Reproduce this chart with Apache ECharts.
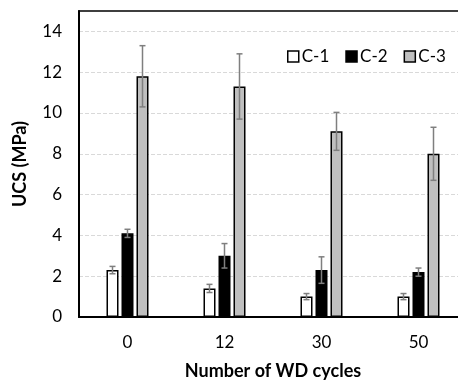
<!DOCTYPE html>
<html>
<head>
<meta charset="utf-8">
<script src="https://cdn.jsdelivr.net/npm/echarts@6/dist/echarts.min.js"></script>
<style>
  html, body { margin: 0; padding: 0; background: #fff; }
  #chart { width: 458px; height: 381px; }
</style>
</head>
<body>
<div id="chart"></div>
<script>
const cycles = ['0', '12', '30', '50'];
const seriesNames = ['C-1', 'C-2', 'C-3'];
const c1 = [2.3, 1.4, 1.0, 1.0];
const c2 = [4.1, 3.0, 2.3, 2.2];
const c3 = [11.8, 11.3, 9.1, 8.0];
const c1Err = [0.18, 0.2, 0.15, 0.15];
const c2Err = [0.2, 0.6, 0.65, 0.2];
const c3Err = [1.5, 1.6, 0.93, 1.3];

const chart = echarts.init(document.getElementById('chart'));
const font = 'Lato, "Open Sans", sans-serif';

// 误差线
const errorSeries = (values, errs, offset) => ({
    type: 'custom',
    z: 5,
    silent: true,
    data: values.map((v, i) => [i, v, errs[i]]),
    renderItem: (params, api) => {
        const i = api.value(0);
        const v = api.value(1);
        const e = api.value(2);
        const top = api.coord([i, v + e]);
        const bot = api.coord([i, v - e]);
        const x = top[0] + offset;
        const style = { stroke: '#7f7f7f', lineWidth: 1.5 };
        return {
            type: 'group',
            children: [
                { type: 'line', shape: { x1: x, y1: top[1], x2: x, y2: bot[1] }, style },
                { type: 'line', shape: { x1: x - 3, y1: top[1], x2: x + 3, y2: top[1] }, style },
                { type: 'line', shape: { x1: x - 3, y1: bot[1], x2: x + 3, y2: bot[1] }, style },
            ],
        };
    },
});

const bar = (name, values, color) => ({
    name,
    type: 'bar',
    data: values,
    barWidth: 12,
    barGap: '25%',
    itemStyle: { color, borderColor: '#000', borderWidth: 1.5 },
});

chart.setOption({
    animation: false,
    grid: {
        left: 79, top: 11, width: 388, bottom: 64,
        outerBoundsMode: 'none',
        containLabel: false,
        show: true, borderColor: '#000', borderWidth: 1.5,
    },
    legend: {
        left: 282, top: 43,
        itemWidth: 11, itemHeight: 11, itemGap: 16,
        icon: 'rect',
        data: seriesNames,
        textStyle: { fontFamily: font, fontSize: 17, color: '#000', padding: [0, 0, 0, -2] },
        itemStyle: { borderColor: '#000', borderWidth: 1.5 },
    },
    xAxis: {
        type: 'category',
        data: cycles,
        name: 'Number of WD cycles',
        nameLocation: 'middle',
        nameGap: 45,
        nameTextStyle: { fontFamily: font, fontSize: 18, fontWeight: 'bold', color: '#000' },
        axisLine: { lineStyle: { color: '#000', width: 2 } },
        axisTick: { alignWithLabel: true, length: 5, lineStyle: { color: '#000', width: 1.5 } },
        axisLabel: { fontFamily: font, fontSize: 17, color: '#000', margin: 17 },
    },
    yAxis: {
        type: 'value',
        min: 0, max: 15, interval: 2,
        name: 'UCS (MPa)',
        nameLocation: 'middle',
        nameGap: 50,
        nameTextStyle: { fontFamily: font, fontSize: 18, fontWeight: 'bold', color: '#000' },
        axisLine: { show: true, lineStyle: { color: '#000', width: 2 } },
        axisTick: { show: false },
        axisLabel: {
            fontFamily: font, fontSize: 17, color: '#000', margin: 17,
            formatter: v => (v > 14 ? '' : String(v)),
        },
        splitLine: { showMaxLine: false, lineStyle: { color: '#d9d9d9', type: 'dashed', width: 1 } },
    },
    series: [
        bar('C-1', c1, '#ffffff'),
        bar('C-2', c2, '#000000'),
        bar('C-3', c3, '#bfbfbf'),
        errorSeries(c1, c1Err, -15),
        errorSeries(c2, c2Err, 0),
        errorSeries(c3, c3Err, 15),
    ],
});
</script>
</body>
</html>
